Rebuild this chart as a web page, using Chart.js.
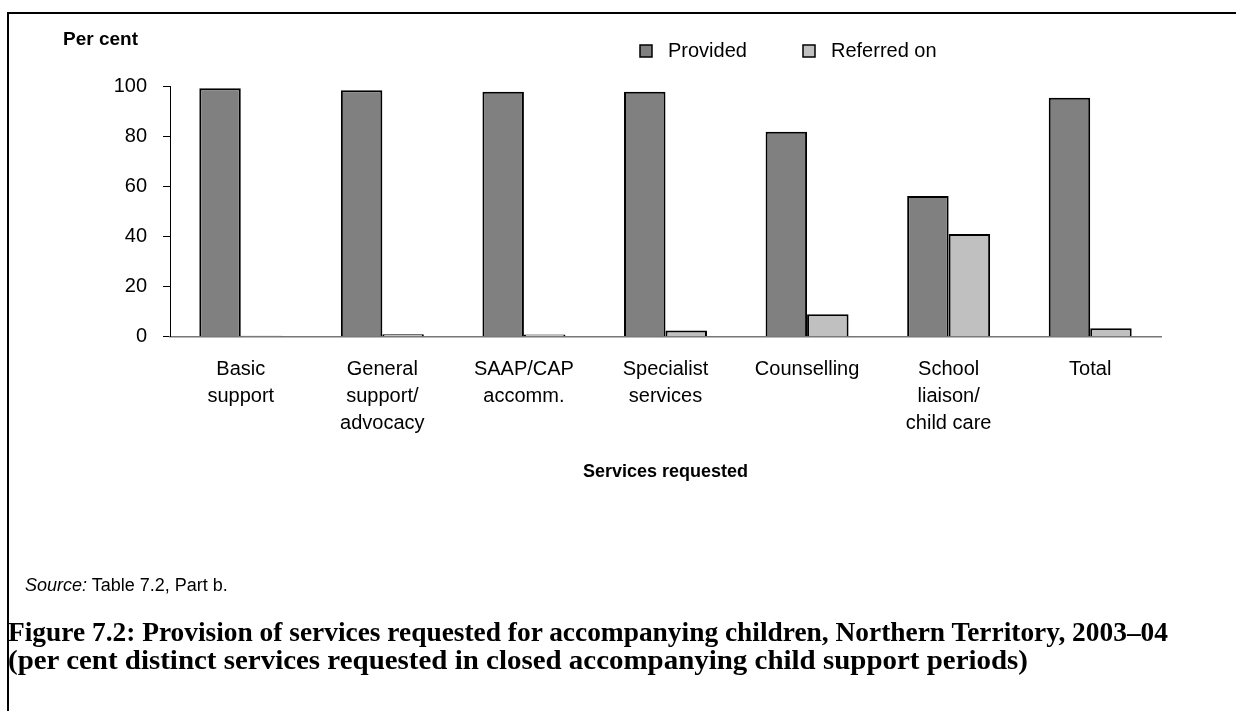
<!DOCTYPE html>
<html>
<head>
<meta charset="utf-8">
<script src="https://cdn.jsdelivr.net/npm/chart.js@4"></script>
<style>
  html, body { margin: 0; padding: 0; background: #fff; }
  #page { position: relative; width: 1236px; height: 711px; overflow: hidden; font-family: "Liberation Sans", Arial, sans-serif; }
  #frame { position: absolute; left: 7px; top: 12px; width: 1240px; height: 710px; border-top: 2px solid #000; border-left: 2px solid #000; }
  #chart { position: absolute; left: 0; top: 0; }
  #source { position: absolute; left: 25px; top: 575px; font-size: 18px; color: #000; white-space: nowrap; }
  .caption { position: absolute; left: 8px; font-family: "Liberation Serif", "Times New Roman", serif; font-weight: bold; font-size: 27px; line-height: 30px; color: #000; white-space: nowrap; transform-origin: 0 0; }
</style>
</head>
<body>
<div id="page">
  <div id="frame"></div>
  <canvas id="chart" width="1236" height="711"></canvas>
  <div id="source"><i>Source:</i> Table 7.2, Part b.</div>
  <div class="caption" id="cap1" style="top:617px">Figure 7.2: Provision of services requested for accompanying children, Northern Territory, 2003–04</div>
  <div class="caption" id="cap2" style="top:645px">(per cent distinct services requested in closed accompanying child support periods)</div>
</div>
<script>
// services requested, one group per service
var categories = [
    ["Basic", "support"],
    ["General", "support/", "advocacy"],
    ["SAAP/CAP", "accomm."],
    ["Specialist", "services"],
    ["Counselling"],
    ["School", "liaison/", "child care"],
    ["Total"]
];
var provided = [99.4, 98.6, 98.0, 98.0, 82.0, 56.3, 95.6];
var referredOn = [0.4, 1.0, 0.9, 2.5, 9.0, 41.1, 3.4];
var seriesNames = ["Provided", "Referred on"];
var yTicks = [0, 20, 40, 60, 80, 100];

// legend boxes drawn above the plot, plus the "Per cent" heading
var topLabels = {
    id: 'topLabels',
    afterDraw: function (chart) {
        var c = chart.ctx;
        var boxX = [640, 803];
        c.save();
        c.font = '20px "Liberation Sans", Arial, sans-serif';
        c.textBaseline = 'middle';
        chart.data.datasets.forEach(function (ds, i) {
            c.fillStyle = ds.backgroundColor;
            c.fillRect(boxX[i], 45, 12, 12);
            c.strokeStyle = '#000';
            c.lineWidth = 1.5;
            c.strokeRect(boxX[i], 45, 12, 12);
            c.fillStyle = '#000';
            c.fillText(ds.label, boxX[i] + 28, 51);
        });
        c.font = 'bold 19px "Liberation Sans", Arial, sans-serif';
        c.fillText('Per cent', 63, 40);
        c.restore();
    }
};

var ctx = document.getElementById('chart').getContext('2d');
var chart = new Chart(ctx, {
    type: 'bar',
    data: {
        labels: categories,
        datasets: [{
            label: seriesNames[0],
            data: provided,
            backgroundColor: '#808080',
            borderColor: '#000',
            borderWidth: 2
        }, {
            label: seriesNames[1],
            data: referredOn,
            backgroundColor: '#c0c0c0',
            borderColor: '#000',
            borderWidth: 2
        }]
    },
    options: {
        responsive: false,
        animation: false,
        layout: { padding: { left: 0, top: 86.7, right: 75, bottom: 228.2 } },
        categoryPercentage: 0.586,
        barPercentage: 1,
        plugins: {
            legend: { display: false },
            tooltip: { enabled: false }
        },
        scales: {
            x: {
                afterFit: function (scale) { scale.height = 146.1; },
                grid: { display: false, drawTicks: false },
                border: { display: true, color: '#777', width: 1.5 },
                ticks: {
                    color: '#000',
                    padding: 19.5,
                    maxRotation: 0,
                    autoSkip: false,
                    font: { family: '"Liberation Sans", Arial, sans-serif', size: 20, lineHeight: '27px' }
                },
                title: {
                    display: true,
                    text: 'Services requested',
                    color: '#000',
                    padding: 0,
                    font: { family: '"Liberation Sans", Arial, sans-serif', size: 18, weight: 'bold', lineHeight: 1.2 }
                }
            },
            y: {
                min: 0,
                max: 100,
                afterFit: function (scale) { scale.width = 170; },
                afterBuildTicks: function (scale) {
                    scale.ticks = yTicks.map(function (v) { return { value: v }; });
                },
                grid: { display: true, drawOnChartArea: false, drawTicks: true, tickLength: 7, color: '#000' },
                border: { display: true, color: '#000', width: 1 },
                ticks: {
                    color: '#000',
                    padding: 16,
                    font: { family: '"Liberation Sans", Arial, sans-serif', size: 20 }
                }
            }
        }
    },
    plugins: [topLabels]
});

// fit the caption lines to the frame width
['cap1', 'cap2'].forEach(function (id, i) {
    var el = document.getElementById(id);
    var target = i === 0 ? 1160 : 1020;
    el.style.transform = 'scaleX(' + (target / el.getBoundingClientRect().width) + ')';
});
</script>
</body>
</html>
